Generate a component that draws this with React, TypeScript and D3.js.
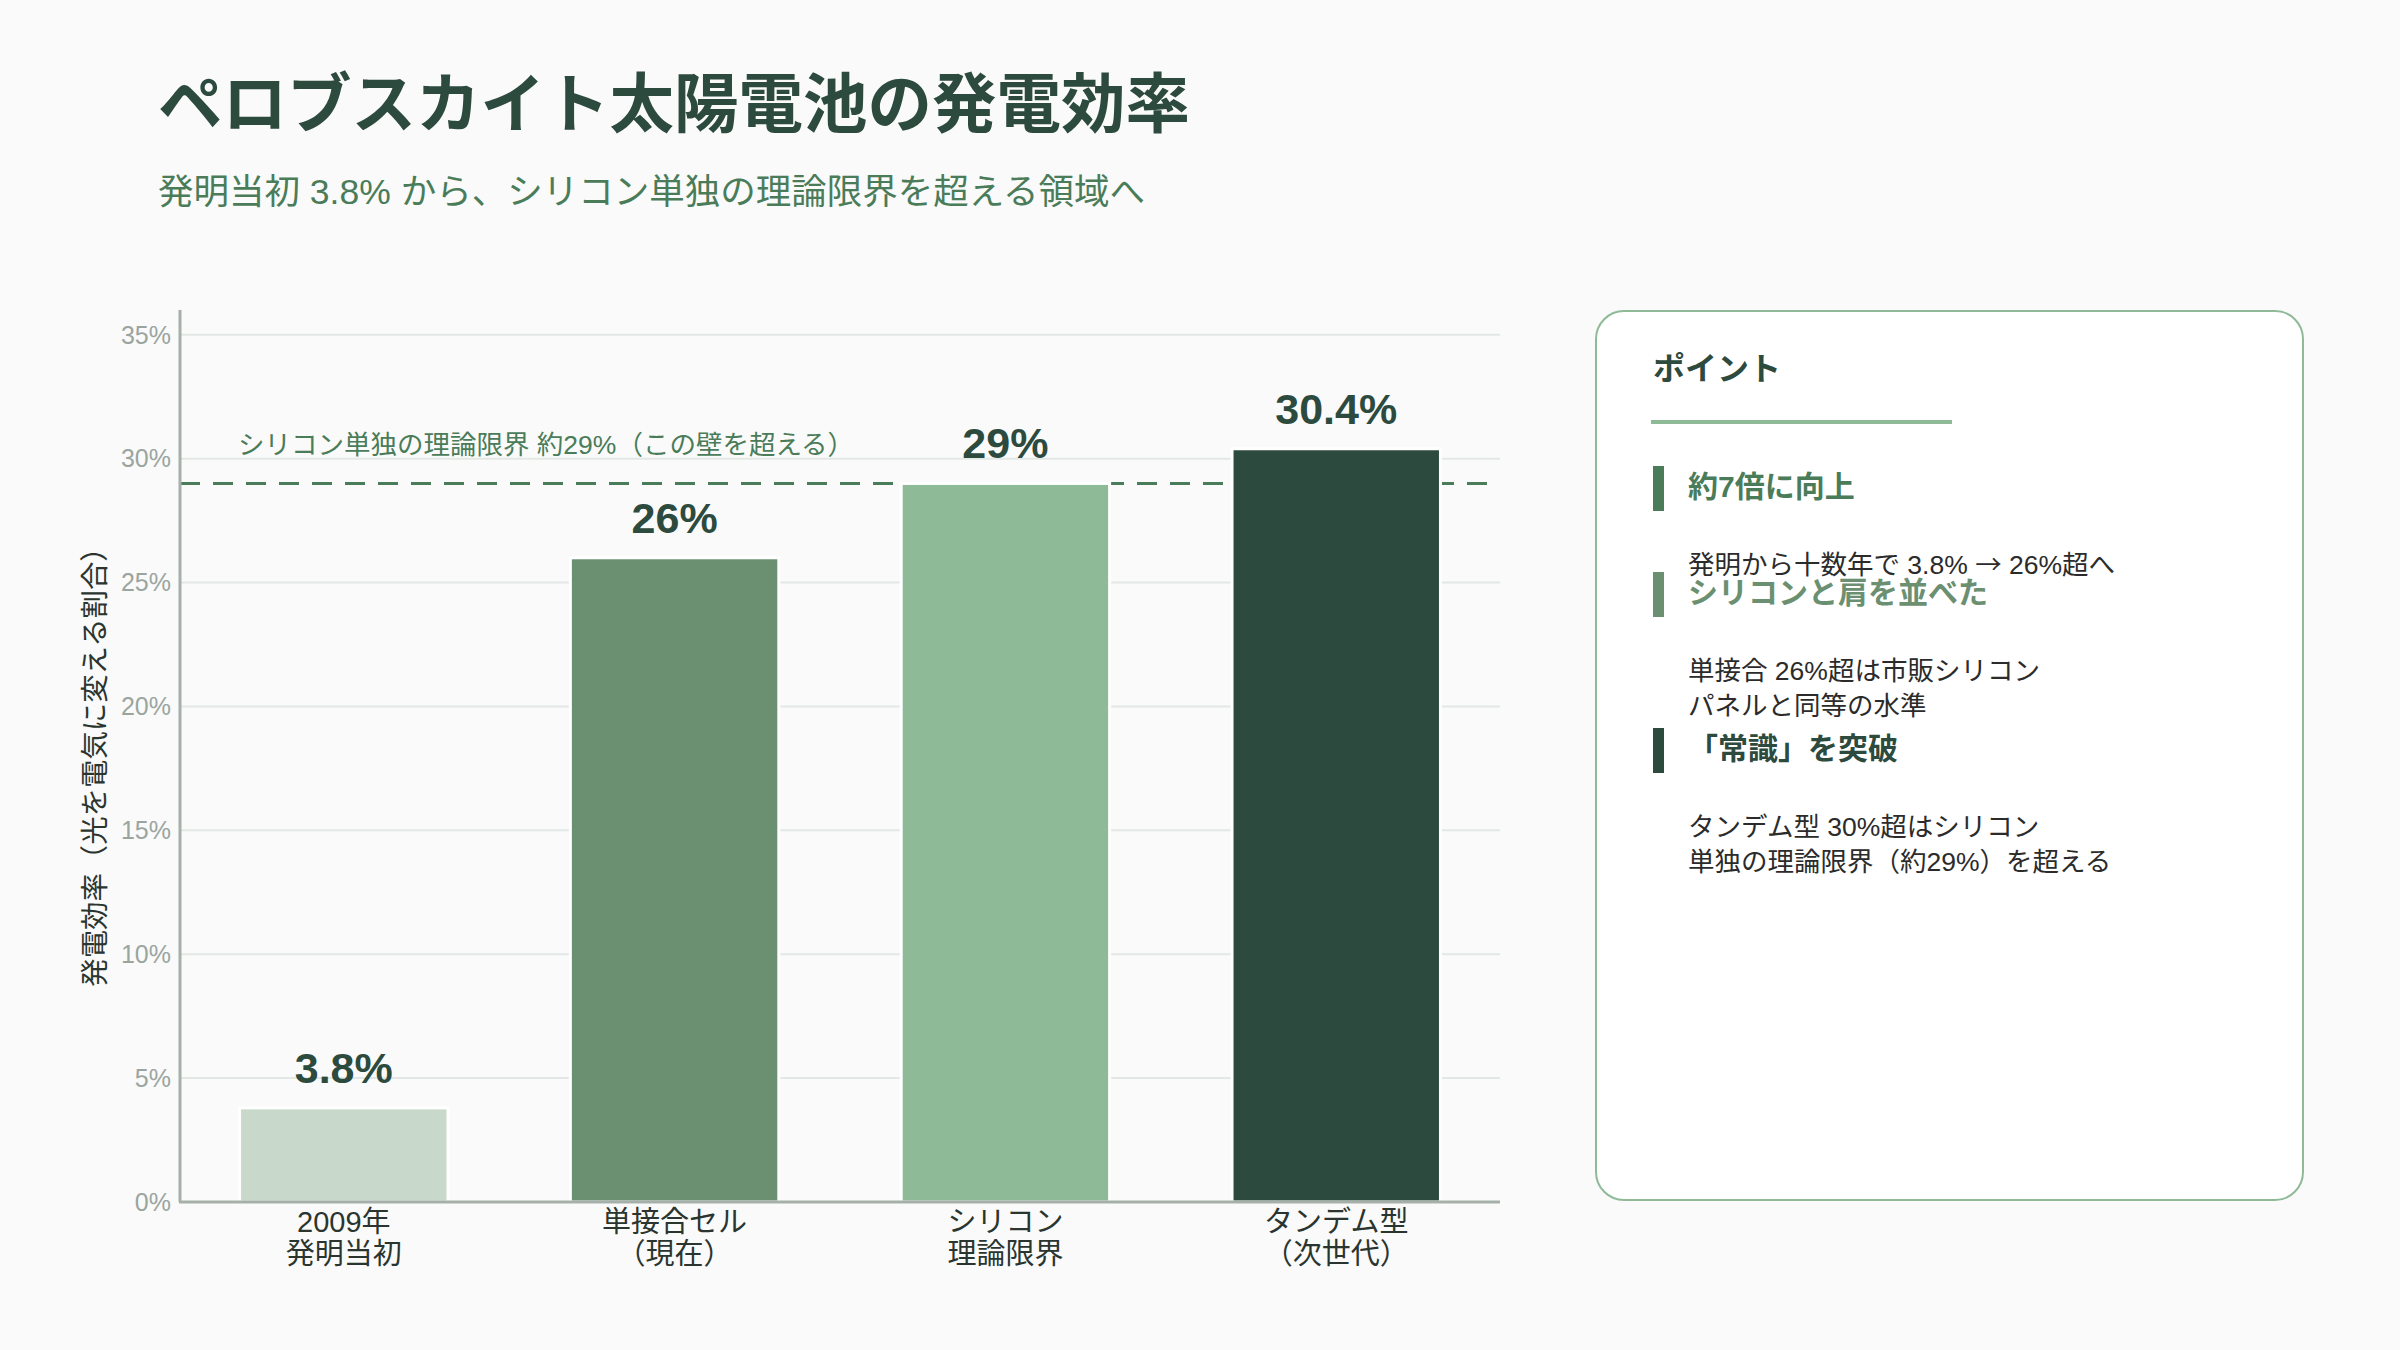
import React, { useEffect } from "react";
import * as d3 from "d3";

const categories = [
  ["2009年", "発明当初"],
  ["単接合セル", "（現在）"],
  ["シリコン", "理論限界"],
  ["タンデム型", "（次世代）"],
];
const values = [3.8, 26, 29, 30.4];
const valueLabels = ["3.8%", "26%", "29%", "30.4%"];
const barColors = ["#c8d9cc", "#6b8f71", "#8fba98", "#2d4a3e"];
const yTicks = [0, 5, 10, 15, 20, 25, 30, 35];
const threshold = 29;
const thresholdLabel = "シリコン単独の理論限界 約29%（この壁を超える）";

const points = [
  { title: "約7倍に向上", color: "#4a7c59", lines: ["発明から十数年で 3.8% → 26%超へ"] },
  { title: "シリコンと肩を並べた", color: "#6b8f71", lines: ["単接合 26%超は市販シリコン", "パネルと同等の水準"] },
  { title: "「常識」を突破", color: "#2d4a3e", lines: ["タンデム型 30%超はシリコン", "単独の理論限界（約29%）を超える"] },
];

const W = 2400;
const H = 1350;
const font = '"Liberation Sans", "Noto Sans CJK JP", sans-serif';
const cjk = '"Noto Sans CJK JP", sans-serif';
const dark = "#2d4a3e";
const mid = "#4a7c59";

// the arrow looks too small in Liberation Sans
const withArrow = (s: string) =>
  s.split("→").flatMap((part, i) =>
    i === 0 ? [part] : [<tspan key={i} fontFamily={cjk}>→</tspan>, part]
  );

export default function App() {
  useEffect(() => {
    document.body.style.margin = "0";
    document.body.style.background = "#fafafa";
  }, []);

  const margin = { top: 310, left: 180, right: 900, bottom: 148 };
  const x = d3
    .scaleBand()
    .domain(categories.map((c) => c[0]))
    .range([margin.left, W - margin.right])
    .paddingInner(0.37)
    .paddingOuter(0.18);
  const y = d3.scaleLinear().domain([0, 36]).range([H - margin.bottom, margin.top]);

  const x0 = margin.left;
  const x1 = W - margin.right;
  const y0 = y(0);

  // panel item layout
  let cursor = 466;
  const items = points.map((p) => {
    const top = cursor;
    cursor += 56 + 50 * p.lines.length;
    return { ...p, top };
  });

  return (
    <svg width={W} height={H} style={{ display: "block", background: "#fafafa", fontFamily: font }}>
      <text x={158} y={127} fontSize={64.5} fontWeight={700} fill={dark}>
        ペロブスカイト太陽電池の発電効率
      </text>
      <text x={158} y={204} fontSize={35.5} fill={mid}>
        発明当初 3.8% から、シリコン単独の理論限界を超える領域へ
      </text>

      {/* grid */}
      {yTicks.slice(1).map((t) => (
        <line key={t} x1={x0} x2={x1} y1={y(t)} y2={y(t)} stroke="#e3e8e5" strokeWidth={2} />
      ))}
      {yTicks.map((t) => (
        <text key={t} x={171} y={y(t)} dy="0.35em" textAnchor="end" fontSize={25} fill="#9aa59f">
          {t}%
        </text>
      ))}

      {/* threshold */}
      <line
        x1={x0}
        x2={x1}
        y1={y(threshold)}
        y2={y(threshold)}
        stroke={mid}
        strokeWidth={3}
        strokeDasharray="20 13"
      />
      <text x={238} y={454} fontSize={26.5} fill={mid}>
        {thresholdLabel}
      </text>

      {/* bars */}
      {values.map((v, i) => {
        const bx = x(categories[i][0])!;
        return (
          <g key={i}>
            <rect
              x={bx}
              y={y(v)}
              width={x.bandwidth()}
              height={y0 - y(v)}
              fill={barColors[i]}
              stroke="#fff"
              strokeWidth={3}
            />
            <text
              x={bx + x.bandwidth() / 2}
              y={y(v) - 25}
              textAnchor="middle"
              fontSize={43}
              fontWeight={700}
              fill={dark}
            >
              {valueLabels[i]}
            </text>
            {categories[i].map((l, j) => (
              <text
                key={j}
                x={bx + x.bandwidth() / 2}
                y={y0 + 30 + j * 32}
                textAnchor="middle"
                fontSize={29}
                fill="#2b3530"
              >
                {l}
              </text>
            ))}
          </g>
        );
      })}

      {/* axes */}
      <line x1={x0} x2={x0} y1={margin.top} y2={y0} stroke="#a6b0aa" strokeWidth={3} />
      <line x1={x0 - 1} x2={x1} y1={y0} y2={y0} stroke="#a6b0aa" strokeWidth={3} />
      <text
        transform={`translate(95, ${(margin.top + y0) / 2 + 4}) rotate(-90)`}
        textAnchor="middle"
        dy="0.35em"
        fontSize={28.4}
        fill="#2b3530"
      >
        発電効率（光を電気に変える割合）
      </text>

      {/* panel */}
      <rect x={1596} y={311} width={707} height={889} rx={28} fill="#fff" stroke="#8fba98" strokeWidth={2} />
      <text x={1653} y={380} fontSize={32} fontWeight={700} fill={dark}>
        ポイント
      </text>
      <rect x={1651} y={420} width={301} height={4} fill="#8fba98" />
      {items.map((it, i) => (
        <g key={i}>
          <rect x={1653} y={it.top} width={11} height={45} fill={it.color} />
          <text x={1688} y={it.top + 31} fontSize={30} fontWeight={700} fill={it.color}>
            {it.title}
          </text>
          {it.lines.map((l, j) => (
            <text key={j} x={1688} y={it.top + 108 + j * 35} fontSize={26.5} fill="#2b2b2b">
              {withArrow(l)}
            </text>
          ))}
        </g>
      ))}
    </svg>
  );
}
